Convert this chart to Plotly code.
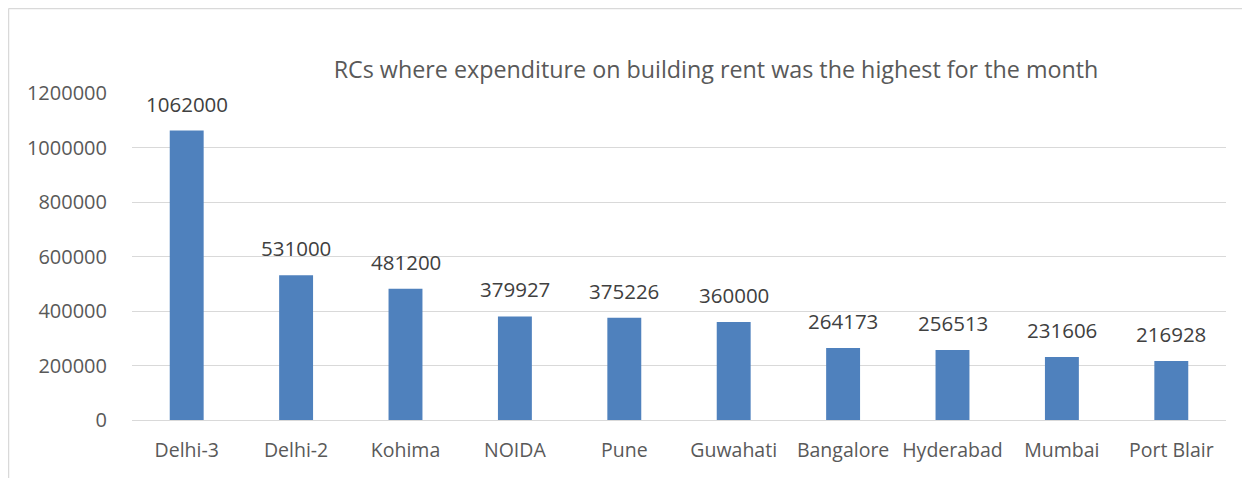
import plotly.graph_objects as go

categories = ["Delhi-3", "Delhi-2", "Kohima", "NOIDA", "Pune", "Guwahati",
              "Bangalore", "Hyderabad", "Mumbai", "Port Blair"]
values = [1062000, 531000, 481200, 379927, 375226, 360000, 264173, 256513, 231606, 216928]
y_ticks = [0, 200000, 400000, 600000, 800000, 1000000, 1200000]
title_text = "RCs where expenditure on building rent was the highest for the month"

FONT = "Open Sans, sans-serif"
# page body has an 8px margin; figure placed at (8, 8) in the window
OFF = 8
W, H = 1250 - OFF, 478 - OFF
L, R, T, B = 132 - OFF, 24, 93 - OFF, 58
pw, ph = W - L - R, H - T - B

def px_x(p):  # page pixel -> paper x
    return (p - OFF - L) / pw

def px_y(p):  # page pixel -> paper y
    return (H - B - (p - OFF)) / ph

fig = go.Figure(go.Bar(
    x=categories, y=values,
    marker=dict(color="#4F81BD", line=dict(width=0)),
))

for c, v in zip(categories, values):
    fig.add_annotation(x=c, y=v, text=str(v), showarrow=False,
                       yanchor="middle", yshift=27,
                       font=dict(family=FONT, size=20.5, color="#404040"))

fig.update_layout(
    width=W, height=H,
    margin=dict(l=L, r=R, t=T, b=B),
    paper_bgcolor="white", plot_bgcolor="white",
    bargap=0.69,
    showlegend=False,
    title=dict(text=title_text, x=px_x(716), xref="paper", xanchor="center",
               y=1 - (70 - OFF) / H, yanchor="middle",
               font=dict(family=FONT, size=23.3, color="#595959")),
    font=dict(family=FONT, size=19.5, color="#595959"),
    xaxis=dict(showgrid=False, showline=True, linecolor="#d9d9d9", linewidth=1,
               ticks="", tickfont=dict(family=FONT, size=19.5, color="#595959"),
               ticklabelstandoff=13),
    yaxis=dict(range=[0, 1200000], tickvals=y_ticks, ticktext=[str(t) for t in y_ticks],
               showgrid=True, gridcolor="#d9d9d9", gridwidth=1, zeroline=False,
               showline=False, ticks="", ticklen=0,
               tickfont=dict(family=FONT, size=20, color="#595959"),
               ticklabelstandoff=24),
    shapes=[
        dict(type="line", xref="paper", yref="paper",
             x0=px_x(8.5), x1=px_x(1270), y0=px_y(8.5), y1=px_y(8.5),
             line=dict(color="#d9d9d9", width=1.5)),
        dict(type="line", xref="paper", yref="paper",
             x0=px_x(8.5), x1=px_x(8.5), y0=px_y(8.5), y1=px_y(500),
             line=dict(color="#d9d9d9", width=1.5)),
    ],
)

fig.write_html("out.html")
